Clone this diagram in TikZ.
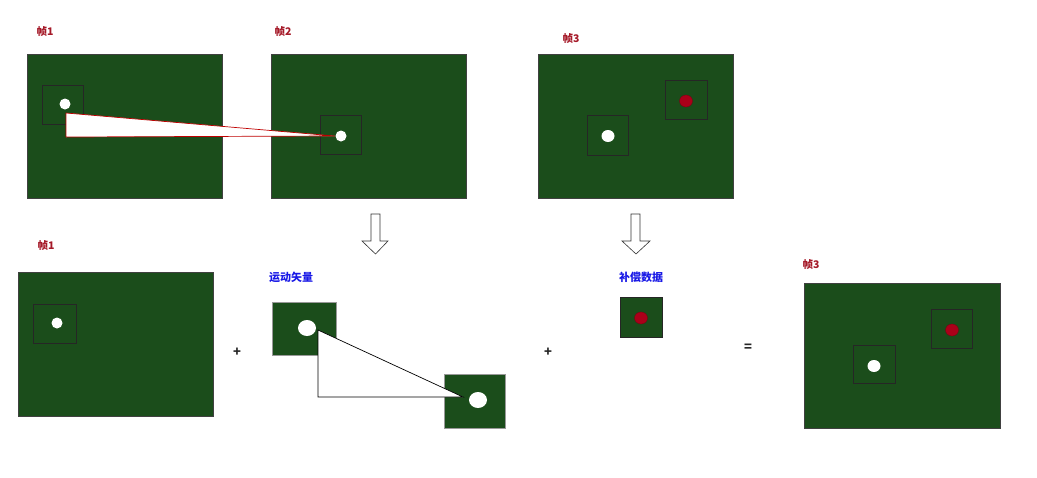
\documentclass[tikz,border=0pt]{standalone}
\usepackage{fontspec}
\setmainfont{Noto Sans CJK SC}
\definecolor{framegreen}{RGB}{27,77,27}
\definecolor{labelred}{RGB}{165,25,40}
\definecolor{labelblue}{RGB}{25,25,230}
\definecolor{dotred}{RGB}{170,0,25}
\tikzset{
  framebox/.style={draw=black!75, line width=0.5pt, fill=framegreen},
  blockbox/.style={draw=black!85, line width=0.4pt},
  whitedot/.style={fill=white},
  reddot/.style={fill=dotred, draw=dotred!70!black, line width=0.3pt},
  redlabel/.style={text=labelred, font=\fontsize{10.5}{12}\selectfont\bfseries, inner sep=0pt},
  bluelabel/.style={text=labelblue, font=\fontsize{11}{12}\selectfont\bfseries, inner sep=0pt},
  opsign/.style={text=black!85, font=\fontsize{13}{14}\selectfont\bfseries, inner sep=0pt},
  hollowarrow/.style={draw=black!80, line width=0.6pt, fill=white, line join=miter}
}
\begin{document}
\begin{tikzpicture}[x=1pt, y=-1pt]
    \useasboundingbox (0,0) rectangle (1037,477);
    % top row: frames 1, 2, 3
    \draw[framebox] (27,54) rectangle (222,198);
    \draw[blockbox] (42,85) rectangle (83,124);
    \draw[framebox] (271,54) rectangle (466,198);
    \draw[blockbox] (320,115) rectangle (361,154);
    \draw[draw=red!75!black, line width=0.7pt, fill=white] (66,113) -- (66,137) -- (335,136) -- cycle;
    \fill[whitedot] (65,104) circle (5.5);
    \fill[whitedot] (341,136) circle (5.5);
    \node[redlabel] (topfa) at (45,32) {帧1};
    \node[redlabel] (topfb) at (283,32) {帧2};
    \node[redlabel] (topfc) at (571,39) {帧3};

    \draw[framebox] (538,54) rectangle (733,198);
    \draw[blockbox] (587,115) rectangle (628,155);
    \draw[blockbox] (665,80) rectangle (707,119);
    \fill[whitedot] (608,136) ellipse (6.5 and 6);
    \draw[reddot] (686,101) ellipse (6.5 and 6);

    % hollow arrows
    \draw[hollowarrow] (371,214) -- (380,214) -- (380,241) -- (388,241) -- (375.5,254)
        -- (362,241) -- (371,241) -- cycle;
    \draw[hollowarrow] (631,214) -- (640,214) -- (640,241) -- (650,241) -- (636,254)
        -- (622,241) -- (631,241) -- cycle;

    % bottom row
    \node[redlabel] (botfa) at (46,246) {帧1};
    \draw[framebox] (18,272) rectangle (213,416);
    \draw[blockbox] (33,304) rectangle (76,343);
    \fill[whitedot] (57,323) circle (5.5);
    \node[opsign] (plusa) at (237,352) {+};

    \node[bluelabel] (mvec) at (291,277) {运动矢量};
    \draw[framebox, draw=black!40] (272,302) rectangle (336,355);
    \draw[framebox, draw=black!40] (444,374) rectangle (505,428);
    \draw[draw=black, line width=0.7pt, fill=white] (318,330) -- (318,397) -- (463,397) -- cycle;
    \fill[whitedot] (307,328) ellipse (9 and 8);
    \fill[whitedot] (478,400) ellipse (9 and 8);

    \node[opsign] (plusb) at (548,352) {+};
    \node[bluelabel] (comp) at (641,277) {补偿数据};
    \draw[framebox, draw=black!85] (620,297) rectangle (662,337);
    \draw[reddot] (641,318) ellipse (6.5 and 6);

    \node[opsign] (equal) at (748,348) {=};
    \node[redlabel] (botfc) at (811,265) {帧3};
    \draw[framebox] (804,283) rectangle (1000,428);
    \draw[blockbox] (853,345) rectangle (895,383);
    \draw[blockbox] (931,309) rectangle (972,348);
    \fill[whitedot] (874,366) ellipse (6.5 and 6);
    \draw[reddot] (952,330) ellipse (6.5 and 6);
\end{tikzpicture}
\end{document}
